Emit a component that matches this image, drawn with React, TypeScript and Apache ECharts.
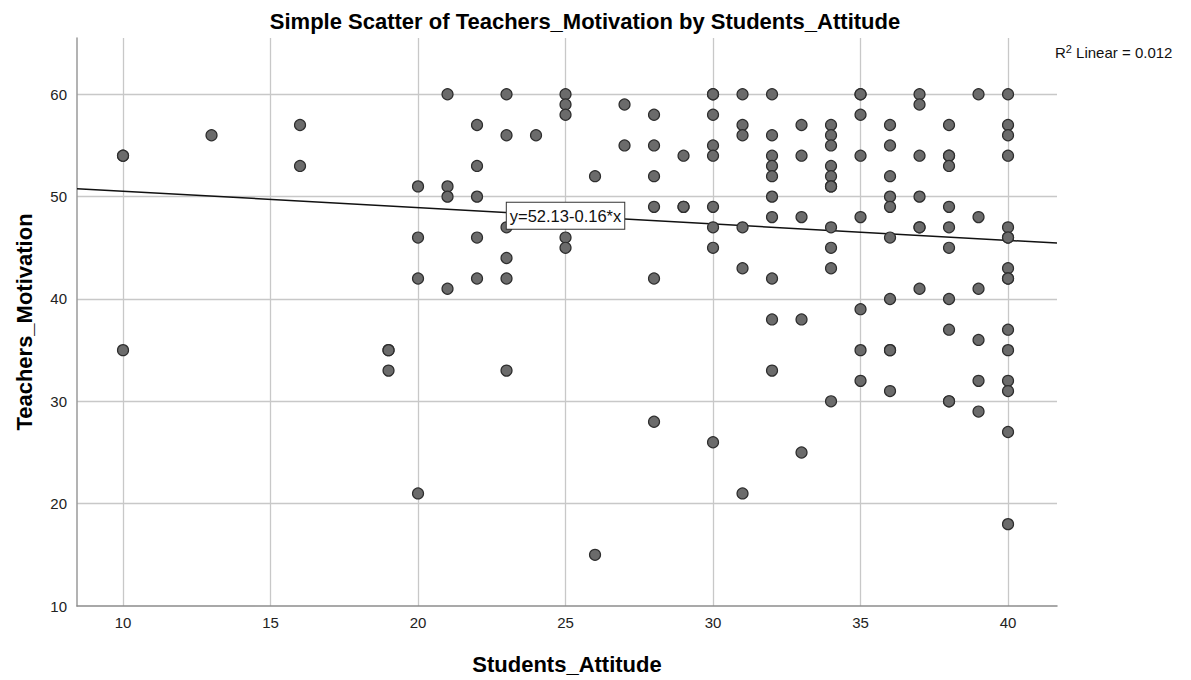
import React, { useEffect, useRef } from "react";
import * as echarts from "echarts";

// Students_Attitude (x) and Teachers_Motivation (y)
const attitude: number[] = [
  10, 10, 10,
  13,
  16, 16,
  19, 19, 19,
  20, 20, 20, 20,
  21, 21, 21, 21,
  22, 22, 22, 22, 22,
  23, 23, 23, 23, 23, 23,
  24,
  25, 25, 25, 25, 25,
  26, 26,
  27, 27,
  28, 28, 28, 28, 28, 28,
  29, 29, 29,
  30, 30, 30, 30, 30, 30, 30, 30, 30,
  31, 31, 31, 31, 31, 31,
  32, 32, 32, 32, 32, 32, 32, 32, 32, 32,
  33, 33, 33, 33, 33,
  34, 34, 34, 34, 34, 34, 34, 34, 34, 34, 34,
  35, 35, 35, 35, 35, 35, 35, 35,
  36, 36, 36, 36, 36, 36, 36, 36, 36, 36,
  37, 37, 37, 37, 37, 37, 37,
  38, 38, 38, 38, 38, 38, 38, 38, 38, 38, 38,
  39, 39, 39, 39, 39, 39,
  40, 40, 40, 40, 40, 40, 40, 40, 40, 40, 40, 40, 40, 40, 40, 40,
];
const motivation: number[] = [
  54, 54, 35,
  56,
  57, 53,
  35, 35, 33,
  51, 46, 42, 21,
  60, 51, 50, 41,
  57, 53, 50, 46, 42,
  60, 56, 47, 44, 42, 33,
  56,
  60, 59, 58, 46, 45,
  52, 15,
  59, 55,
  58, 55, 52, 49, 42, 28,
  54, 49, 49,
  60, 60, 58, 55, 54, 49, 47, 45, 26,
  60, 57, 56, 47, 43, 21,
  60, 56, 54, 53, 52, 50, 48, 42, 38, 33,
  57, 54, 48, 38, 25,
  57, 56, 55, 53, 52, 51, 51, 47, 45, 43, 30,
  60, 60, 58, 54, 48, 39, 35, 32,
  57, 55, 52, 50, 49, 46, 40, 35, 35, 31,
  60, 59, 54, 50, 47, 47, 41,
  57, 54, 54, 53, 49, 47, 45, 40, 37, 30, 30,
  60, 48, 41, 36, 32, 29,
  60, 57, 56, 54, 47, 46, 46, 43, 42, 42, 37, 35, 32, 31, 27, 18,
];

const xTicks: number[] = [10, 15, 20, 25, 30, 35, 40];
const yTicks: number[] = [10, 20, 30, 40, 50, 60];
const xRange: number[] = [8.44, 41.66];
const yRange: number[] = [10, 65.5];

const intercept = 52.13;
const slope = -0.16;
const rSquared = "0.012";
const fitLabelX = 25;

const FONT = "'Liberation Sans', Arial, sans-serif";

export default function App() {
  const ref = useRef<HTMLDivElement>(null);

  useEffect(() => {
    document.body.style.margin = "0";
    if (!ref.current) return;
    const chart = echarts.init(ref.current, undefined, { renderer: "svg" });

    const points = attitude.map((x, i) => [x, motivation[i]]);
    const fitLine = xRange.map((x) => [x, intercept + slope * x]);

    const gridLines = [
      ...xTicks.map((v) => ({ xAxis: v })),
      ...yTicks.filter((v) => v !== yRange[0]).map((v) => ({ yAxis: v })),
    ];

    chart.setOption({
      animation: false,
      backgroundColor: "#ffffff",
      title: {
        text: "Simple Scatter of Teachers_Motivation by Students_Attitude",
        left: 580,
        top: 5,
        textAlign: "center",
        textStyle: {
          fontFamily: FONT,
          fontSize: 22,
          fontWeight: "bold",
          color: "#000",
        },
      },
      grid: { left: 77, right: 134, top: 38, bottom: 68, containLabel: false },
      xAxis: {
        type: "value",
        min: xRange[0],
        max: xRange[1],
        name: "Students_Attitude",
        nameLocation: "middle",
        nameGap: 47,
        nameTextStyle: {
          fontFamily: FONT,
          fontSize: 22,
          fontWeight: "bold",
          color: "#000",
        },
        axisLine: { show: true, lineStyle: { color: "#8c8c8c", width: 1.5 } },
        axisTick: { show: false },
        splitLine: { show: false },
        axisLabel: {
          customValues: xTicks,
          margin: 9,
          fontFamily: FONT,
          fontSize: 15,
          color: "#222",
        },
      },
      yAxis: {
        type: "value",
        min: yRange[0],
        max: yRange[1],
        name: "Teachers_Motivation",
        nameLocation: "middle",
        nameGap: 42,
        nameTextStyle: {
          fontFamily: FONT,
          fontSize: 22,
          fontWeight: "bold",
          color: "#000",
        },
        axisLine: { show: true, lineStyle: { color: "#9a9a9a", width: 1.5 } },
        axisTick: { show: false },
        splitLine: { show: false },
        axisLabel: {
          customValues: yTicks,
          margin: 10,
          fontFamily: FONT,
          fontSize: 15,
          color: "#222",
        },
      },
      series: [
        {
          name: "fit",
          type: "line",
          data: fitLine,
          symbol: "none",
          z: 1,
          silent: true,
          lineStyle: { color: "#111", width: 1.5 },
          markLine: {
            silent: true,
            symbol: "none",
            label: { show: false },
            lineStyle: { color: "#c8c8c8", width: 1.3, type: "solid" },
            data: gridLines,
            z: 0,
          },
          markPoint: {
            silent: true,
            symbol: "rect",
            symbolSize: 1,
            itemStyle: { color: "rgba(0,0,0,0)" },
            data: [{ coord: [fitLabelX, intercept + slope * fitLabelX] }],
            label: {
              show: true,
              position: "inside",
              formatter: `y=${intercept.toFixed(2)}${slope < 0 ? "-" : "+"}${Math.abs(slope).toFixed(2)}*x`,
              fontFamily: FONT,
              fontSize: 16.5,
              color: "#111",
              backgroundColor: "#fff",
              borderColor: "#333",
              borderWidth: 1,
              padding: [5, 3, 4, 3],
            },
            z: 5,
          },
        },
        {
          name: "points",
          type: "scatter",
          data: points,
          symbol: "circle",
          symbolSize: 11,
          z: 3,
          itemStyle: {
            color: "#6b6b6b",
            borderColor: "#2e2e2e",
            borderWidth: 1.2,
            opacity: 1,
          },
        },
      ],
      graphic: [
        {
          type: "text",
          left: 1055,
          top: 43,
          style: {
            text: "{a|R}{s|2}{a| Linear = " + rSquared + "}",
            rich: {
              a: { fontFamily: FONT, fontSize: 15, fill: "#111", color: "#111" },
              s: {
                fontFamily: FONT,
                fontSize: 11,
                fill: "#111",
                color: "#111",
                padding: [0, 0, 8, 0],
              },
            },
          },
        },
      ],
    });

    return () => chart.dispose();
  }, []);

  return <div ref={ref} style={{ width: 1191, height: 680 }} />;
}
